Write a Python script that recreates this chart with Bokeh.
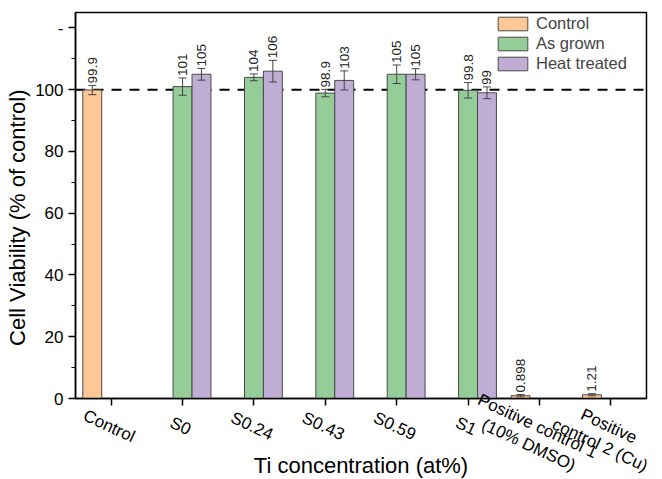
import math
from bokeh.plotting import figure
from bokeh.core.properties import value
from bokeh.models import (ColumnDataSource, FactorRange, FixedTicker, Span, Whisker,
                          LabelSet, Legend, LegendItem)
from bokeh.transform import dodge
from bokeh.embed import file_html
from bokeh.resources import INLINE

# ---------------- data ----------------
categories = ["Control", "S0", "S0.24", "S0.43", "S0.59", "S1", "PC1", "PC2"]
tick_labels = ["Control", "S0", "S0.24", "S0.43", "S0.59", "S1",
               "Positive control 1\n(10% DMSO)", "Positive\ncontrol 2 (Cu)"]

control_cats = ["Control", "PC1", "PC2"]
control_vals = [99.9, 0.898, 1.21]
control_err = [1.5, 0.4, 0.35]

sample_cats = ["S0", "S0.24", "S0.43", "S0.59", "S1"]
grown_vals = [101, 104, 98.9, 105, 99.8]
grown_err = [2.8, 1.1, 1.2, 3.0, 2.5]
heat_vals = [105, 106, 103, 105, 99.0]
heat_err = [1.9, 3.5, 3.1, 1.8, 1.9]

series_names = ["Control", "As grown", "Heat treated"]
y_ticks = [0, 20, 40, 60, 80, 100]
y_minor = [10, 30, 50, 70, 90, 110]
top_tick = 120
top_tick_label = "-"
reference_level = 100
y_max = 125

x_title = "Ti concentration (at%)"
y_title = "Cell Viability (% of control)"

# ---------------- style / layout ----------------
FONT = "Liberation Sans"
ORANGE = "#FDC896"
GREEN = "#94CD98"
PURPLE = "#BFADD4"
EDGE = "#4a4a4a"
ERR = "#444444"
BAR_W = 0.265


def make_src(cats, vals, errs):
    return ColumnDataSource(dict(
        cat=cats, val=vals,
        lo=[v - e for v, e in zip(vals, errs)],
        hi=[v + e for v, e in zip(vals, errs)],
        label=[f"{v:.3g}" for v in vals],
    ))


src_c = make_src(control_cats, control_vals, control_err)
src_g = make_src(sample_cats, grown_vals, grown_err)
src_h = make_src(sample_cats, heat_vals, heat_err)

p = figure(x_range=FactorRange(factors=categories), y_range=(0, y_max),
           width=662, height=479, output_backend="svg", toolbar_location=None,
           min_border_left=75, min_border_right=16, min_border_top=12, min_border_bottom=81)

p.xgrid.visible = False
p.ygrid.visible = False
p.outline_line_color = "black"
p.outline_line_width = 1.5
p.outline_line_alpha = 1.0

span = Span(location=reference_level, dimension="width", line_color="black",
            line_width=2, line_dash="10 8", level="underlay")
p.add_layout(span)

renderers = []
for src, off, col in [(src_c, -BAR_W, ORANGE), (src_g, 0, GREEN), (src_h, BAR_W, PURPLE)]:
    r = p.vbar(x=dodge("cat", off, range=p.x_range), top="val", width=BAR_W, source=src,
               fill_color=col, line_color=EDGE, line_width=1)
    renderers.append(r)
    w = Whisker(base=dodge("cat", off, range=p.x_range), upper="hi", lower="lo", source=src,
                level="overlay", line_color=ERR, line_width=1)
    w.upper_head.size = 8
    w.lower_head.size = 8
    w.upper_head.line_color = ERR
    w.lower_head.line_color = ERR
    p.add_layout(w)
    ls = LabelSet(x=dodge("cat", off, range=p.x_range), y="hi", text="label", source=src,
                  angle=math.pi / 2, text_align="left", text_baseline="middle",
                  y_offset=2, text_font_size=value("13.5px"), text_font=value(FONT),
                  text_color="#222222")
    p.add_layout(ls)

legend = Legend(items=[LegendItem(label=n, renderers=[r]) for n, r in zip(series_names, renderers)],
                location="top_right", glyph_width=37, glyph_height=17, label_height=17,
                label_width=108, spacing=1, padding=2, margin=0, label_standoff=5,
                label_text_font_size="16.5px", label_text_font=FONT,
                border_line_alpha=0, background_fill_alpha=0)
p.add_layout(legend)

# y axis
p.yaxis.ticker = FixedTicker(ticks=y_ticks + [top_tick], minor_ticks=y_minor)
p.yaxis.major_label_overrides = {top_tick: top_tick_label}
p.yaxis.major_tick_out = 7
p.yaxis.major_tick_in = 0
p.yaxis.minor_tick_out = 4
p.yaxis.minor_tick_in = 0
p.yaxis.axis_line_width = 1.5
p.yaxis.major_tick_line_width = 1.5
p.yaxis.minor_tick_line_width = 1.2
p.yaxis.major_label_text_font_size = "17px"
p.yaxis.major_label_text_font = FONT
p.yaxis.major_label_text_color = "black"
p.yaxis.major_label_standoff = 5
p.yaxis.axis_label = y_title + "\u00a0" * 4
p.yaxis.axis_label_text_font = FONT
p.yaxis.axis_label_text_font_size = "22px"
p.yaxis.axis_label_text_font_style = "normal"
p.yaxis.axis_label_text_color = "black"
p.yaxis.axis_label_standoff = 2

# x axis: tick marks here; the rotated category names are drawn as text below
p.xaxis.major_tick_out = 7
p.xaxis.major_tick_in = 0
p.xaxis.axis_line_width = 1.5
p.xaxis.major_tick_line_width = 1.5
p.xaxis.major_label_standoff = 0
p.xaxis.major_label_text_color = None
p.xaxis.major_label_text_font_size = "1px"

lab_src = ColumnDataSource(dict(cat=categories, text=tick_labels, y=[0] * len(categories)))
p.text(x="cat", y="y", text="text", source=lab_src, x_offset=2, y_offset=19,
       angle=-0.436, text_align="center", text_baseline="top",
       text_font=value(FONT), text_font_size=value("17px"), text_color="black",
       text_line_height=1.1, level="overlay")
p.text(x=[len(categories) / 2], y=[0], text=[x_title], y_offset=67, text_align="center",
       text_baseline="alphabetic", text_font=value(FONT), text_font_size=value("22px"),
       text_color="black", level="overlay")

open("out.html", "w").write(file_html(p, INLINE))
